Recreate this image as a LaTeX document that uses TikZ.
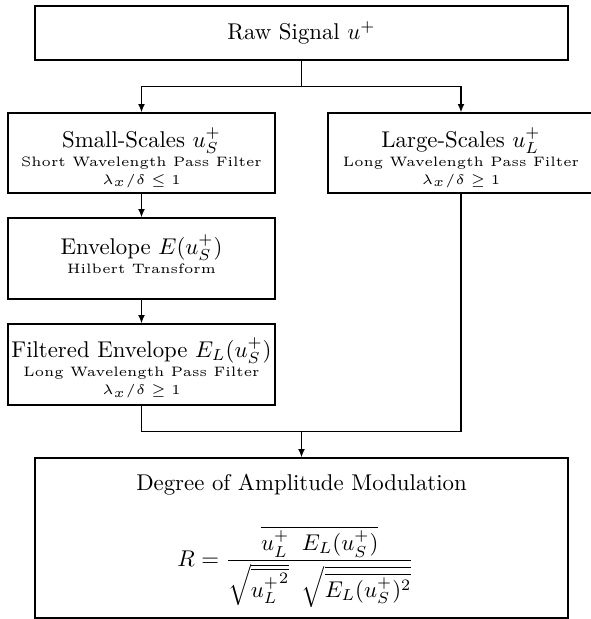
\documentclass[tikz,border=0pt]{standalone}
\usepackage{amsmath}
\usepackage{graphicx}
\usetikzlibrary{arrows.meta}
\newcommand\subt[1]{\scalebox{1.2}{\tiny #1}}
\newcommand\topstrut[1]{\rule{0pt}{#1}}
\def\pu{0.4386pt}
\begin{document}
\begin{tikzpicture}[x=0.4386pt,y=-0.4386pt,
  box/.style={draw,line width=0.6pt,rectangle,inner sep=0pt,align=center},
  arr/.style={line width=0.6pt,-{Latex[length=3.6pt,width=3pt]}},
  ln/.style={line width=0.6pt}]
\useasboundingbox (0,0) rectangle (591,619);
\node[box,minimum width=533*\pu,minimum height=54*\pu] (raw) at (301.5,33) {Raw Signal $u^+$};
\node[box,minimum width=267*\pu,minimum height=80*\pu] (small) at (141.5,153)
  {\topstrut{12.6pt}Small-Scales $u_S^+$\\[-3.65pt] \subt{Short Wavelength Pass Filter}\\[-4.1pt] \subt{$\lambda_x/\delta \le 1$}};
\node[box,minimum width=266*\pu,minimum height=80*\pu] (large) at (461,153)
  {\topstrut{12.6pt}Large-Scales $u_L^+$\\[-3.65pt] \subt{Long Wavelength Pass Filter}\\[-4.1pt] \subt{$\lambda_x/\delta \ge 1$}};
\node[box,minimum width=267*\pu,minimum height=81*\pu] (env) at (141.5,258.5)
  {Envelope $E(u_S^+)$\\[-3.65pt] \subt{Hilbert Transform}\rule[-4pt]{0pt}{4pt}};
\node[box,minimum width=267*\pu,minimum height=81*\pu] (filt) at (141.5,364.5)
  {\topstrut{11.4pt}Filtered Envelope $E_L(u_S^+)$\\[-3.65pt] \subt{Long Wavelength Pass Filter}\\[-4.1pt] \subt{$\lambda_x/\delta \ge 1$}};
\node[box,minimum width=533*\pu,minimum height=160*\pu] (deg) at (301.5,538)
  {\topstrut{10pt}Degree of Amplitude Modulation\\[12.5pt]
   $\displaystyle R=\frac{\overline{u_L^+\;\;E_L(u_S^+)}}{\sqrt{\overline{{u_L^+}^2}}\;\;\sqrt{\overline{E_L(u_S^+)^2}}}\kern5pt$};
\coordinate (j1) at (301.5,86.5);
\coordinate (j2) at (301.5,431.7);
\draw[ln] (raw.south) -- (j1);
\draw[arr] (j1) -| (small.north);
\draw[arr] (j1) -| (large.north);
\draw[arr] (small.south) -- (env.north);
\draw[arr] (env.south) -- (filt.north);
\draw[ln] (filt.south) |- (j2);
\draw[ln] (large.south) |- (j2);
\draw[arr] (j2) -- (deg.north);
\end{tikzpicture}
\end{document}
